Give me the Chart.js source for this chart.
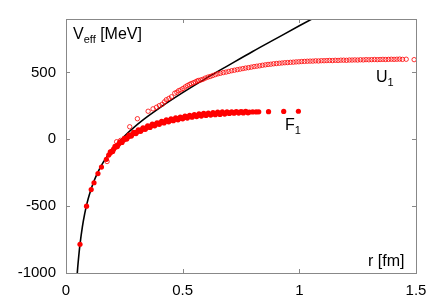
<!DOCTYPE html>
<html>
<head>
<meta charset="utf-8">
<script src="https://cdn.jsdelivr.net/npm/chart.js@4/dist/chart.umd.min.js"></script>
<style>
  html, body { margin: 0; padding: 0; background: #fff; }
  canvas { display: block; }
</style>
</head>
<body>
<canvas id="pot" width="436" height="305"></canvas>
<script>
// tick labels
const xTicks = [0, 0.5, 1, 1.5];
const yTicks = [-1000, -500, 0, 500];

// F_1 (filled dots)
const rF = [0.060, 0.088, 0.108, 0.120, 0.137, 0.152, 0.173, 0.183, 0.190, 0.197,
  0.204, 0.211, 0.218, 0.225, 0.232, 0.240, 0.247, 0.254, 0.261, 0.268,
  0.276, 0.283, 0.291, 0.298, 0.306, 0.314, 0.322, 0.330, 0.338, 0.346,
  0.355, 0.364, 0.373, 0.382, 0.391, 0.400, 0.410, 0.420, 0.430, 0.440,
  0.451, 0.462, 0.473, 0.484, 0.496, 0.508, 0.520, 0.532, 0.545, 0.558,
  0.571, 0.585, 0.599, 0.613, 0.628, 0.643, 0.658, 0.674, 0.690, 0.706,
  0.723, 0.740, 0.757, 0.775, 0.786, 0.800, 0.815, 0.826, 0.868, 0.933, 0.996];
const vF = [-785, -500, -376, -325, -256, -208, -150, -118, -102, -88,
  -74, -60, -48, -37, -26, -15, -5, 4, 12, 20,
  29, 36, 44, 51, 57, 64, 70, 76, 82, 88,
  94, 100, 106, 111, 116, 121, 126, 131, 136, 140,
  144, 148, 152, 156, 160, 164, 168, 171, 175, 178,
  181, 184, 186, 189, 191, 193, 195, 197, 199, 200,
  201, 202, 203, 204, 204, 205, 205, 206, 207, 209, 210];

// more F_1 points in the thick band: upper edge
const rFhi = [0.19, 0.21, 0.23, 0.25, 0.27, 0.29, 0.31, 0.33, 0.35, 0.37,
  0.39, 0.41, 0.43, 0.45, 0.47, 0.49, 0.51, 0.53, 0.55, 0.57,
  0.59, 0.61, 0.63, 0.65, 0.67, 0.69, 0.71, 0.73, 0.75, 0.77];
const vFhi = [-93, -53, -20, 8, 31, 52, 70, 85, 100, 113,
  124, 135, 145, 153, 160, 167, 174, 180, 185, 190,
  194, 197, 200, 203, 205, 206, 206, 207, 208, 209];
// lower edge
const rFlo = [0.20, 0.22, 0.24, 0.26, 0.28, 0.30, 0.32, 0.34, 0.36, 0.38,
  0.40, 0.42, 0.44, 0.46, 0.48, 0.50, 0.52, 0.54, 0.56, 0.58,
  0.60, 0.62, 0.64, 0.66, 0.68, 0.70, 0.72, 0.74, 0.76, 0.78];
const vFlo = [-91, -54, -24, 2, 24, 43, 60, 75, 89, 101,
  112, 122, 131, 139, 146, 153, 159, 165, 170, 174,
  178, 181, 184, 186, 189, 194, 195, 196, 197, 198];

// U_1 (open circles)
const rU = [0.176, 0.217, 0.234, 0.273, 0.306, 0.352, 0.373, 0.388, 0.400, 0.412,
  0.422, 0.430, 0.441, 0.452, 0.466, 0.475, 0.483, 0.492, 0.501, 0.511,
  0.520, 0.529, 0.537, 0.546, 0.554, 0.562, 0.568, 0.578, 0.587, 0.597,
  0.608, 0.618, 0.629, 0.640, 0.651, 0.662, 0.674, 0.686, 0.698, 0.710,
  0.722, 0.734, 0.746, 0.758, 0.770, 0.782, 0.794, 0.806, 0.818, 0.830,
  0.842, 0.854, 0.866, 0.878, 0.890, 0.902, 0.914, 0.926, 0.938, 0.950,
  0.962, 0.974, 0.986, 0.998, 1.010, 1.022, 1.034, 1.046, 1.058, 1.070,
  1.082, 1.094, 1.106, 1.118, 1.130, 1.142, 1.154, 1.166, 1.178, 1.190,
  1.202, 1.214, 1.226, 1.238, 1.250, 1.262, 1.274, 1.286, 1.298, 1.310,
  1.322, 1.334, 1.346, 1.358, 1.370, 1.382, 1.394, 1.406, 1.418, 1.430,
  1.442, 1.458, 1.492];
const vU = [-166, -18, -8, 94, 154, 210, 228, 240, 252, 262,
  280, 296, 306, 318, 345, 352, 364, 370, 380, 392,
  402, 410, 417, 423, 429, 436, 440, 444, 449, 458,
  465, 470, 477, 484, 490, 494, 499, 503, 508, 513,
  517, 521, 525, 529, 533, 536, 540, 544, 547, 550,
  554, 557, 560, 562, 565, 567, 569, 571, 573, 574,
  576, 577, 579, 580, 582, 583, 584, 585, 585, 587,
  586, 588, 588, 589, 590, 589, 591, 590, 592, 592,
  591, 593, 593, 594, 593, 595, 594, 596, 595, 596,
  597, 596, 597, 598, 597, 598, 599, 598, 599, 600,
  598, 599, 596];

// black curve
const rLine = [0.045, 0.050, 0.055, 0.060, 0.070, 0.080, 0.090, 0.100, 0.120, 0.140,
  0.160, 0.180, 0.200, 0.250, 0.300, 0.350, 0.400, 0.500, 0.600, 0.700,
  0.800, 0.900, 1.000, 1.100];
const vLine = [-1080, -963, -867, -786, -657, -558, -479, -414, -312, -234,
  -171, -118, -72, 23, 102, 171, 234, 349, 456, 557,
  657, 753, 849, 943];

const pts = (xs, ys) => xs.map((x, i) => ({ x: x, y: ys[i] }));

const FONT = '"Liberation Sans", Arial, sans-serif';

function subText(ctx, x, y, main, sub, rest, size) {
  ctx.font = size + 'px ' + FONT;
  ctx.fillText(main, x, y);
  let w = ctx.measureText(main).width;
  ctx.font = Math.round(size * 0.7) + 'px ' + FONT;
  ctx.fillText(sub, x + w, y + 4);
  w += ctx.measureText(sub).width;
  if (rest) {
    ctx.font = size + 'px ' + FONT;
    ctx.fillText(rest, x + w, y);
  }
}

const framePlugin = {
  id: 'frame',
  afterDraw(chart) {
    const { ctx, chartArea: a, scales } = chart;
    ctx.save();
    ctx.strokeStyle = '#888';
    ctx.lineWidth = 1;
    ctx.strokeRect(a.left + 0.5, a.top + 0.5, a.right - a.left, a.bottom - a.top);
    ctx.beginPath();
    xTicks.forEach(v => {
      const px = Math.round(scales.x.getPixelForValue(v)) + 0.5;
      ctx.moveTo(px, a.bottom); ctx.lineTo(px, a.bottom - 4);
      ctx.moveTo(px, a.top); ctx.lineTo(px, a.top + 4);
    });
    yTicks.forEach(v => {
      const py = Math.round(scales.y.getPixelForValue(v)) + 0.5;
      ctx.moveTo(a.left, py); ctx.lineTo(a.left + 4, py);
      ctx.moveTo(a.right, py); ctx.lineTo(a.right - 4, py);
    });
    ctx.stroke();

    ctx.fillStyle = '#000';
    ctx.textBaseline = 'alphabetic';
    ctx.textAlign = 'left';
    subText(ctx, a.left + 7, 38.5, 'V', 'eff', ' [MeV]', 16);
    subText(ctx, 376, 81.5, 'U', '1', '', 16);
    subText(ctx, 285, 130, 'F', '1', '', 16);
    ctx.font = '16px ' + FONT;
    ctx.fillText('r [fm]', 368, 266);
    ctx.restore();
  }
};

new Chart(document.getElementById('pot').getContext('2d'), {
  type: 'scatter',
  data: {
    datasets: [
      {
        label: 'F1',
        data: pts(rF, vF).concat(pts(rFhi, vFhi), pts(rFlo, vFlo)),
        pointRadius: 2.6,
        pointBackgroundColor: '#ff0000',
        pointBorderWidth: 0,
        order: 1
      },
      {
        label: 'U1',
        data: pts(rU, vU),
        pointRadius: 2.2,
        pointBackgroundColor: 'rgba(0,0,0,0)',
        pointBorderColor: '#ff0000',
        pointBorderWidth: 0.8,
        order: 2
      },
      {
        label: 'line',
        data: pts(rLine, vLine),
        showLine: true,
        borderColor: '#000',
        borderWidth: 1.6,
        pointRadius: 0,
        cubicInterpolationMode: 'monotone',
        order: 3
      }
    ]
  },
  options: {
    responsive: false,
    devicePixelRatio: 1,
    animation: false,
    events: [],
    layout: { padding: { left: 0, right: 20, top: 18, bottom: 0 } },
    plugins: { legend: { display: false }, tooltip: { enabled: false } },
    scales: {
      x: {
        type: 'linear',
        min: 0,
        max: 1.5,
        border: { display: false },
        grid: { display: false, drawTicks: false },
        afterBuildTicks: s => { s.ticks = xTicks.map(v => ({ value: v })); },
        afterFit: s => { s.height = 32; },
        ticks: {
          color: '#000',
          padding: 9,
          maxRotation: 0,
          font: { family: FONT, size: 15 },
          callback: v => String(v)
        }
      },
      y: {
        type: 'linear',
        min: -1000,
        max: 900,
        border: { display: false },
        grid: { display: false, drawTicks: false },
        afterBuildTicks: s => { s.ticks = yTicks.map(v => ({ value: v })); },
        afterFit: s => { s.width = 66; },
        ticks: {
          color: '#000',
          padding: 10,
          font: { family: FONT, size: 15 },
          callback: v => String(v)
        }
      }
    }
  },
  plugins: [framePlugin]
});
</script>
</body>
</html>
